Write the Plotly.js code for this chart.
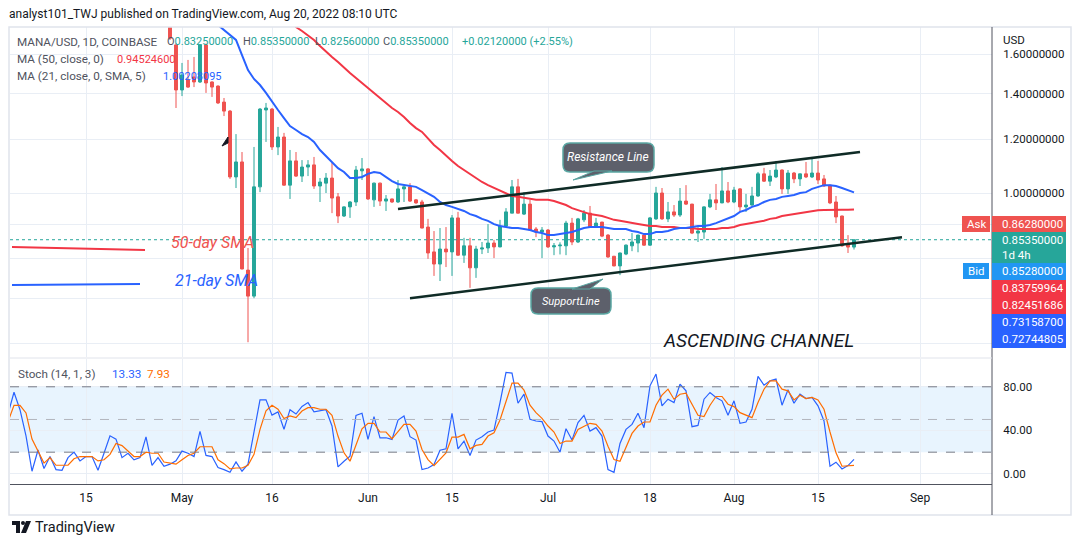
<!DOCTYPE html>
<html><head><meta charset="utf-8">
<script src="https://cdn.plot.ly/plotly-3.0.1.min.js"></script>
<style>html,body{margin:0;padding:0;background:#fff;}#chart{width:1079px;height:545px;}</style>
</head><body><div id="chart"></div>
<script>
// ---------------- DATA ----------------
const candleStart = '2022-04-29';
const open = [1.800,1.652,1.418,1.467,1.482,1.457,1.652,1.457,1.437,1.361,1.320,1.056,1.111,0.770,0.705,1.021,1.325,1.329,1.169,1.209,1.027,1.115,1.059,1.092,1.100,1.024,1.034,1.052,0.987,0.925,0.954,0.970,1.078,
1.085,0.977,1.034,0.973,0.980,0.970,1.014,1.021,0.977,0.970,0.891,0.819,0.786,0.827,0.819,0.919,0.810,0.836,0.776,0.827,0.830,0.844,0.833,0.894,0.934,1.021,0.931,0.963,0.885,0.876,
0.882,0.833,0.836,0.836,0.903,0.847,0.913,0.934,0.891,0.906,0.867,0.807,0.781,0.813,0.836,0.844,0.867,0.838,0.916,1.000,0.916,0.938,0.928,0.973,0.963,0.873,0.876,0.954,0.977,0.967,1.007,
0.970,1.014,0.954,0.960,0.990,1.067,1.041,1.056,1.081,1.014,1.070,1.049,1.067,1.056,1.070,1.049,1.027,0.970,0.925,0.840,0.8325];
const high = [1.830,1.660,1.554,1.570,1.586,1.652,1.660,1.460,1.440,1.380,1.325,1.221,1.149,0.830,1.169,1.334,1.357,1.334,1.251,1.226,1.157,1.149,1.118,1.118,1.130,1.052,1.070,1.107,1.000,0.956,0.973,1.096,1.126,
1.088,1.036,1.036,0.993,0.981,1.045,1.027,1.034,0.980,0.977,0.916,0.879,0.888,0.891,0.928,0.938,0.859,0.859,0.836,0.847,0.900,0.853,0.913,0.950,1.045,1.049,1.003,0.977,0.891,0.891,
0.885,0.844,0.846,0.910,0.919,0.919,0.944,0.957,0.919,0.907,0.870,0.808,0.817,0.840,0.873,0.868,0.870,0.922,1.021,1.017,0.970,0.960,1.017,1.027,0.964,0.891,0.956,0.997,1.031,1.092,1.038,
1.021,1.017,0.997,1.021,1.074,1.089,1.081,1.115,1.083,1.081,1.074,1.068,1.111,1.130,1.115,1.063,1.028,0.990,0.926,0.867,0.8535];
const low = [1.680,1.334,1.389,1.428,1.432,1.452,1.404,1.385,1.352,1.298,1.049,1.017,0.772,0.603,0.700,1.003,1.189,1.157,1.137,1.025,0.980,1.056,1.038,1.059,1.014,0.970,1.000,0.934,0.903,0.922,0.919,0.957,1.045,
0.977,0.954,0.957,0.941,0.967,0.967,0.970,0.970,0.964,0.887,0.800,0.755,0.742,0.778,0.755,0.808,0.789,0.725,0.750,0.813,0.816,0.802,0.832,0.891,0.934,0.933,0.928,0.880,0.861,0.802,
0.830,0.810,0.812,0.810,0.838,0.844,0.906,0.889,0.888,0.861,0.803,0.780,0.757,0.810,0.821,0.818,0.836,0.836,0.913,0.913,0.906,0.922,0.922,0.960,0.870,0.847,0.856,0.950,0.944,0.966,0.966,
0.966,0.938,0.938,0.958,0.987,1.038,1.024,1.052,0.997,0.997,1.034,1.024,1.052,1.052,1.031,1.021,0.963,0.903,0.833,0.816,0.8256];
const close = [1.690,1.418,1.492,1.432,1.457,1.652,1.452,1.432,1.357,1.320,1.056,1.111,0.773,0.705,1.021,1.329,1.334,1.169,1.209,1.027,1.115,1.059,1.092,1.100,1.024,1.038,1.052,0.983,0.925,0.954,0.970,1.081,1.085,
0.980,1.034,0.973,0.980,0.970,1.014,1.021,0.973,0.967,0.888,0.816,0.786,0.827,0.819,0.919,0.810,0.836,0.776,0.827,0.830,0.844,0.833,0.894,0.938,1.021,0.934,0.963,0.882,0.876,0.882,
0.833,0.836,0.838,0.903,0.847,0.916,0.934,0.891,0.903,0.864,0.805,0.781,0.816,0.838,0.847,0.867,0.838,0.919,1.000,0.916,0.938,0.928,0.973,0.963,0.873,0.879,0.954,0.977,0.967,1.007,0.970,
1.010,0.954,0.960,0.990,1.067,1.041,1.059,1.081,1.014,1.070,1.049,1.067,1.056,1.070,1.045,1.024,0.967,0.922,0.836,0.8325,0.8535];

const ma21Start = '2022-05-05';
const ma21 = [1.956,1.828,1.767,1.738,1.708,1.680,1.596,1.517,1.472,1.442,1.404,1.361,1.325,1.289,1.255,1.238,1.221,1.209,1.189,1.157,1.134,1.111,1.088,1.074,1.052,1.052,1.056,
1.067,1.074,1.070,1.056,1.041,1.031,1.027,1.024,1.021,1.010,0.997,0.987,0.970,0.960,0.954,0.947,0.941,0.931,0.925,0.916,0.910,0.900,0.894,0.891,0.888,0.888,0.885,0.882,0.876,0.873,
0.867,0.867,0.870,0.873,0.876,0.882,0.888,0.891,0.891,0.891,0.888,0.885,0.885,0.885,0.879,0.876,0.870,0.870,0.876,0.876,0.879,0.885,0.888,0.888,0.891,0.894,0.894,0.897,0.903,0.910,0.919,
0.925,0.938,0.944,0.954,0.960,0.970,0.977,0.980,0.987,0.990,0.993,1.000,1.003,1.014,1.021,1.027,1.027,1.024,1.017,1.010,1.00208095];

const ma50Start = '2022-05-19';
const ma50 = [1.810,1.755,1.732,1.708,1.680,1.646,1.613,1.586,1.559,1.528,1.502,1.477,1.452,
1.428,1.404,1.380,1.357,1.334,1.316,1.294,1.268,1.246,1.230,1.201,1.177,1.157,1.134,1.115,1.096,1.081,1.067,1.052,1.038,1.027,1.017,1.007,0.997,0.990,0.987,0.983,0.980,0.977,0.977,
0.977,0.973,0.967,0.960,0.950,0.944,0.938,0.931,0.928,0.925,0.919,0.913,0.910,0.906,0.903,0.900,0.897,0.894,0.894,0.891,0.891,0.891,0.888,0.888,0.888,0.885,0.885,0.885,0.885,0.888,0.888,
0.891,0.897,0.900,0.903,0.906,0.910,0.916,0.919,0.925,0.928,0.931,0.934,0.938,0.941,0.943,0.944,0.945,0.945,0.945,0.945,0.945246];

const stochStart = '2022-04-02';
const stochK = [55,75,59,35,2.5,22,5,16,4,3.4,15,20,12,16,16,3.4,19,35,32,15,19,13,15,34,8,15,7,9,12,
21,19,16,39,17,16,6,4,1.5,11,2.5,9,40,68,68,54,57,41,59,55,62,65.5,57,58,59,44,6.5,11.7,16.3,53.8,55.7,
31.7,52.6,33.2,33.2,31.7,49.5,53.2,34.2,31.1,4,5.5,8.6,21.8,23.1,55.7,23.1,30.2,16.9,31.1,34.2,38.5,40.3,65.5,93.2,92.6,64.9,73.2,50.2,48.6,48,
34.8,30.2,20,41.5,31.1,47.1,53.8,39.4,42.5,34.8,4,1.5,28,40.9,45.5,55.7,42.5,80.9,91.7,62.5,68.6,65.5,82.5,76.3,43.4,44.6,68.6,74.8,70.2,67.1,53.8,
67.1,46.5,47.7,59.4,89.5,81.5,85.5,87.1,63.1,77.2,64.9,73.2,69.2,70.2,62.5,48.6,7.1,10.8,4.6,7.7,13.33];
const stochD = [48,63,63,56,32,21,10,15,8,8,8,14,16,16,16,12,13,18,28,26,21,16,16,20,19,19,11,10,9,
13,17,19,25,25,25,13,9.5,4.6,5.5,5.5,8,18,41,58,63.1,59.4,50.8,53.2,51.7,57.8,60.9,60.9,59.4,59.4,53.8,34.8,19.4,11.7,26.2,41.5,
46.5,46.5,38.5,38.5,32.3,38.5,45.5,45.5,39.4,22.5,13.2,7.7,13.2,19.4,33.8,33.8,36.3,23.1,26.2,27.1,34.8,37.8,49.5,65.5,83.4,83.4,76.9,63.1,56.3,51,
44,38.5,28,30.2,30.2,40.9,44,46.5,45.5,39.4,25.5,13.2,11.7,24,37.2,44,47.7,47.7,63.1,72.3,77.8,68.6,73.2,74.2,64,53.8,52.6,63.1,71.1,71.1,64,
61.8,56.3,53.8,51.7,65.5,77.8,85.5,85.5,77.8,76.3,68,72.3,69.2,70.2,68,59.4,38.5,19.4,7.1,7.7,7.93];

const tickDates = ['2022-04-15','2022-05-01','2022-05-16','2022-06-01','2022-06-15','2022-07-01','2022-07-18','2022-08-01','2022-08-15','2022-09-01'];
const tickText = ['15','May','16','Jun','15','Jul','18','Aug','15','Sep'];
const priceTickVals = [0.6,0.7,0.8,0.9,1.0,1.2,1.4,1.6];
const priceTickText = ['','','','','1.00000000','1.20000000','1.40000000','1.60000000'];
const stochTickVals = [0,40,80];
const stochTickText = ['0.00','40.00','80.00'];

const resistanceDates = ['2022-06-06','2022-08-22'];
const resistanceVals = [0.947,1.149];
const supportDates = ['2022-06-08','2022-08-29'];
const supportVals = [0.700,0.861];

const askPrice = 0.8628, bidPrice = 0.8528;
const sideTags = [0.83759964,0.82451686,0.731587,0.72744805];
const ma50Last = 0.94524600, ma21Last = 1.00208095, change = 0.0212, changePct = 2.55;
const countdown = '1d 4h';

// ---------------- HELPERS ----------------
function days(start, n){ const out=[]; const d=new Date(start+'T00:00:00Z'); for(let i=0;i<n;i++){ out.push(new Date(d.getTime()+i*86400000).toISOString().slice(0,10)); } return out; }
const cDates = days(candleStart, close.length);
const m21Dates = days(ma21Start, ma21.length);
const m50Dates = days(ma50Start, ma50.length);
const sDates = days(stochStart, stochK.length);
const N = close.length;

const L=10, R=992, T=27, B=484;
const px = x => (x-L)/(R-L);
const py = y => (B-y)/(B-T);
const F = 'Roboto, "Open Sans", sans-serif';
const ln = v => Math.log10(v);
const xRange = ['2022-04-02 08:00','2022-09-13 00:00'];

// ---------------- TRACES ----------------
const traces = [
 {type:'candlestick', x:cDates, open, high, low, close, xaxis:'x', yaxis:'y',
  increasing:{line:{color:'#26a69a',width:1}, fillcolor:'#26a69a'},
  decreasing:{line:{color:'#ef5350',width:1}, fillcolor:'#ef5350'}, whiskerwidth:0, hoverinfo:'skip'},
 {type:'scatter', mode:'lines', x:m50Dates, y:ma50, line:{color:'#f23645',width:2}, xaxis:'x', yaxis:'y'},
 {type:'scatter', mode:'lines', x:m21Dates, y:ma21, line:{color:'#2962ff',width:2}, xaxis:'x', yaxis:'y'},
 {type:'scatter', mode:'lines', x:xRange, y:[close[N-1],close[N-1]], line:{color:'#26a69a',width:1,dash:'dot'}, xaxis:'x', yaxis:'y'},
 {type:'scatter', mode:'lines', x:resistanceDates, y:resistanceVals, line:{color:'#0f2b26',width:2.5}, xaxis:'x', yaxis:'y'},
 {type:'scatter', mode:'lines', x:supportDates, y:supportVals, line:{color:'#0f2b26',width:2.5}, xaxis:'x', yaxis:'y'},
 {type:'scatter', mode:'lines', x:sDates, y:stochK, line:{color:'#2962ff',width:1.2}, xaxis:'x', yaxis:'y2'},
 {type:'scatter', mode:'lines', x:sDates, y:stochD, line:{color:'#ff6d00',width:1.2}, xaxis:'x', yaxis:'y2'}
];

// ---------------- SHAPES ----------------
function rrect(x0,y0,x1,y1,r){
  const P=(x,y)=>px(x)+','+py(y);
  return `M${P(x0+r,y0)} L${P(x1-r,y0)} Q${P(x1,y0)} ${P(x1,y0+r)} L${P(x1,y1-r)} Q${P(x1,y1)} ${P(x1-r,y1)} L${P(x0+r,y1)} Q${P(x0,y1)} ${P(x0,y1-r)} L${P(x0,y0+r)} Q${P(x0,y0)} ${P(x0+r,y0)} Z`;
}
function poly(pts){ return 'M'+pts.map(p=>px(p[0])+','+py(p[1])).join(' L')+' Z'; }
const shapes = [
 {type:'rect', xref:'paper', yref:'y2', x0:0, x1:1, y0:20, y1:80, fillcolor:'rgba(33,150,243,0.1)', line:{width:0}, layer:'below'},
 {type:'line', xref:'paper', yref:'y2', x0:0, x1:1, y0:80, y1:80, line:{color:'#787b86',width:1,dash:'dash'}},
 {type:'line', xref:'paper', yref:'y2', x0:0, x1:1, y0:50, y1:50, line:{color:'#b2b5be',width:1,dash:'dash'}},
 {type:'line', xref:'paper', yref:'y2', x0:0, x1:1, y0:20, y1:20, line:{color:'#787b86',width:1,dash:'dash'}},
 // frame & separators
 {type:'rect', xref:'paper', yref:'paper', x0:px(9), x1:px(1071), y0:py(515), y1:py(27), line:{color:'#e0e3eb',width:1.5}, fillcolor:'rgba(0,0,0,0)'},
 {type:'line', xref:'paper', yref:'paper', x0:px(992), x1:px(992), y0:py(27), y1:py(515), line:{color:'#50535e',width:1}},
 {type:'line', xref:'paper', yref:'paper', x0:0, x1:1, y0:py(358), y1:py(358), line:{color:'#e0e3eb',width:1}},
 // left legend drawings
 {type:'line', xref:'paper', yref:'paper', x0:px(12), x1:px(145), y0:py(247), y1:py(250), line:{color:'#f23645',width:2}},
 {type:'line', xref:'paper', yref:'paper', x0:px(12), x1:px(140), y0:py(285), y1:py(284), line:{color:'#2962ff',width:2}},
 // small arrow mark
 {type:'path', xref:'paper', yref:'paper', path:poly([[222,146],[228,137],[228,143]]), fillcolor:'#131722', line:{color:'#131722',width:1}},
 // callouts
 {type:'path', xref:'paper', yref:'paper', path:rrect(563,143,654,172,7), fillcolor:'#5d606b', line:{color:'#5aa7a3',width:1.5}},
 {type:'path', xref:'paper', yref:'paper', path:poly([[594,171],[573,180],[612,171]]), fillcolor:'#5d606b', line:{color:'#5aa7a3',width:1}},
 {type:'path', xref:'paper', yref:'paper', path:rrect(531,288,611,314,7), fillcolor:'#5d606b', line:{color:'#5aa7a3',width:1.5}},
 {type:'path', xref:'paper', yref:'paper', path:poly([[572,289],[603,279],[590,289]]), fillcolor:'#5d606b', line:{color:'#5aa7a3',width:1}},
 // price tags
 {type:'rect', xref:'paper', yref:'paper', x0:px(962), x1:px(990), y0:py(232), y1:py(216), fillcolor:'#ef5350', line:{width:0}},
 {type:'rect', xref:'paper', yref:'paper', x0:px(992), x1:px(1066), y0:py(232), y1:py(216), fillcolor:'#ef5350', line:{width:0}},
 {type:'rect', xref:'paper', yref:'paper', x0:px(992), x1:px(1066), y0:py(263), y1:py(232), fillcolor:'#26a69a', line:{width:0}},
 {type:'rect', xref:'paper', yref:'paper', x0:px(963), x1:px(989), y0:py(279), y1:py(263), fillcolor:'#2196f3', line:{width:0}},
 {type:'rect', xref:'paper', yref:'paper', x0:px(992), x1:px(1066), y0:py(280), y1:py(263), fillcolor:'#2196f3', line:{width:0}},
 {type:'rect', xref:'paper', yref:'paper', x0:px(992), x1:px(1066), y0:py(297), y1:py(280), fillcolor:'#f23645', line:{width:0}},
 {type:'rect', xref:'paper', yref:'paper', x0:px(992), x1:px(1066), y0:py(314), y1:py(297), fillcolor:'#f23645', line:{width:0}},
 {type:'rect', xref:'paper', yref:'paper', x0:px(992), x1:px(1066), y0:py(331), y1:py(314), fillcolor:'#2962ff', line:{width:0}},
 {type:'rect', xref:'paper', yref:'paper', x0:px(992), x1:px(1066), y0:py(348), y1:py(331), fillcolor:'#2962ff', line:{width:0}},
 // TradingView logo
 {type:'rect', xref:'paper', yref:'paper', x0:px(12), x1:px(20), y0:py(525), y1:py(521), fillcolor:'#131722', line:{width:0}},
 {type:'rect', xref:'paper', yref:'paper', x0:px(16), x1:px(20), y0:py(533), y1:py(521), fillcolor:'#131722', line:{width:0}},
 {type:'circle', xref:'paper', yref:'paper', x0:px(21), x1:px(25), y0:py(525), y1:py(521), fillcolor:'#131722', line:{width:0}},
 {type:'path', xref:'paper', yref:'paper', path:poly([[26,521],[31,521],[26,533],[21,533]]), fillcolor:'#131722', line:{width:0}}
];

// ---------------- ANNOTATIONS ----------------
function txt(x,y,text,font,extra){
  return Object.assign({xref:'paper',yref:'paper',x:px(x),y:py(y),text,showarrow:false,xanchor:'left',yanchor:'middle',borderpad:0,
    font:Object.assign({family:F,size:11.7,color:'#131722'},font||{})}, extra||{});
}
const G='#50535e', TEAL='#26a69a';
const f8 = v => v.toFixed(8);
const annotations = [
 txt(8,14,'analyst101_TWJ published on TradingView.com, Aug 20, 2022 08:10 UTC',{size:12}),
 txt(16,42,'MANA/USD, 1D, COINBASE',{color:G}),
 txt(166,42,`O<span style="color:${TEAL}">${f8(open[N-1])}</span>`,{color:G,size:11}),
 txt(242,42,`H<span style="color:${TEAL}">${f8(high[N-1])}</span>`,{color:G,size:11}),
 txt(314,42,`L<span style="color:${TEAL}">${f8(low[N-1])}</span>`,{color:G,size:11}),
 txt(382,42,`C<span style="color:${TEAL}">${f8(close[N-1])}</span>`,{color:G,size:11}),
 txt(461,42,`+${f8(change)} (+${changePct}%)`,{color:TEAL,size:11}),
 txt(16,59,'MA (50, close, 0)',{color:G}),
 txt(116,59,f8(ma50Last),{color:'#f23645',size:11}),
 txt(16,76,'MA (21, close, 0, SMA, 5)',{color:G}),
 txt(162,76,f8(ma21Last),{color:'#2962ff',size:11}),
 txt(17,374,'Stoch (14, 1, 3)',{color:G}),
 txt(111,374,stochK[stochK.length-1].toFixed(2),{color:'#2962ff'}),
 txt(146,374,stochD[stochD.length-1].toFixed(2),{color:'#ff6d00'}),
 txt(1002,40,'USD',{size:11.5}),
 txt(170,242,'<i>50-day SMA</i>',{size:16,color:'#ef5350'}),
 txt(174,280,'<i>21-day SMA</i>',{size:16,color:'#2962ff'}),
 txt(662,340,'<i>ASCENDING CHANNEL</i>',{size:19,color:'#131722'}),
 txt(608,157,'<i>Resistance Line</i>',{size:12,color:'#ffffff'},{xanchor:'center'}),
 txt(571,301,'<i>SupportLine</i>',{size:11,color:'#ffffff'},{xanchor:'center'}),
 txt(976,224,'Ask',{size:11.5,color:'#fff'},{xanchor:'center'}),
 txt(1001,224,f8(askPrice),{size:11.5,color:'#fff'}),
 txt(1001,240,f8(close[N-1]),{size:11.5,color:'#fff'}),
 txt(1001,255,countdown,{size:11.5,color:'#fff'}),
 txt(976,271,'Bid',{size:11.5,color:'#fff'},{xanchor:'center'}),
 txt(1001,271,f8(bidPrice),{size:11.5,color:'#fff'}),
 txt(1001,288,f8(sideTags[0]),{size:11.5,color:'#fff'}),
 txt(1001,305,f8(sideTags[1]),{size:11.5,color:'#fff'}),
 txt(1001,322,f8(sideTags[2]),{size:11.5,color:'#fff'}),
 txt(1001,339,f8(sideTags[3]),{size:11.5,color:'#fff'}),
 txt(34,527,'TradingView',{size:14.5,color:'#131722'})
];

// ---------------- LAYOUT ----------------
const pBot = Math.exp((193-357)/295), pTop = Math.exp((193-27)/295);
const layout = {
  width:1079, height:545, margin:{l:L, r:1079-R, t:T, b:545-B},
  paper_bgcolor:'#ffffff', plot_bgcolor:'#ffffff', showlegend:false, hovermode:false,
  font:{family:F, color:'#131722'},
  xaxis:{type:'date', anchor:'y2', range:xRange, tickvals:tickDates, ticktext:tickText,
    showgrid:true, gridcolor:'#e9eef5', gridwidth:1, zeroline:false, showline:true, linecolor:'#50535e', linewidth:1,
    ticks:'outside', ticklen:3, tickcolor:'rgba(0,0,0,0)', tickfont:{family:F,size:12,color:'#131722'},
    rangeslider:{visible:false}, fixedrange:true},
  yaxis:{type:'log', domain:[py(357),1], range:[ln(pBot), ln(pTop)], side:'right',
    tickvals:priceTickVals, ticktext:priceTickText, showgrid:true, gridcolor:'#e9eef5', zeroline:false,
    ticks:'outside', ticklen:8, tickcolor:'rgba(0,0,0,0)', tickfont:{family:F,size:11.5,color:'#131722'}, showline:false, fixedrange:true},
  yaxis2:{domain:[0,py(359)], range:[-9.2,105.5], side:'right', anchor:'x',
    tickvals:stochTickVals, ticktext:stochTickText, showgrid:true, gridcolor:'#e9eef5', zeroline:false,
    ticks:'outside', ticklen:8, tickcolor:'rgba(0,0,0,0)', tickfont:{family:F,size:11.5,color:'#131722'}, showline:false, fixedrange:true},
  shapes, annotations
};
Plotly.newPlot('chart', traces, layout, {displayModeBar:false, staticPlot:true});
</script>
</body></html>
